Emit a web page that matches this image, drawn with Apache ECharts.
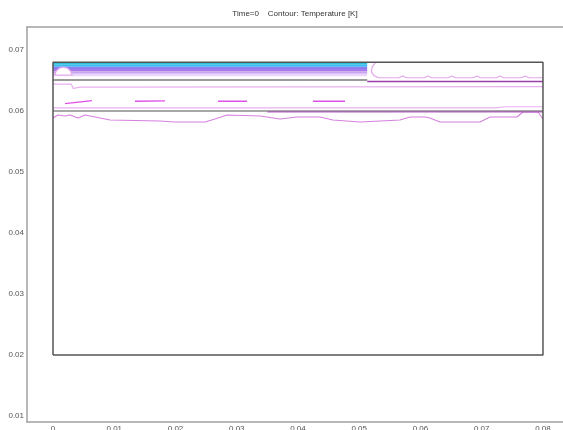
<!DOCTYPE html>
<html>
<head>
<meta charset="utf-8">
<script src="https://cdn.jsdelivr.net/npm/echarts@6/dist/echarts.min.js"></script>
<style>html,body{margin:0;padding:0;background:#fff}#c{width:563px;height:430px}</style>
</head>
<body>
<div id="c"></div>
<script>
// ---- data ----
const titleText = 'Time=0    Contour: Temperature [K]';
const xTicks = [0, 0.01, 0.02, 0.03, 0.04, 0.05, 0.06, 0.07, 0.08];
const yTicks = [0.01, 0.02, 0.03, 0.04, 0.05, 0.06, 0.07];
const domainOutline = [[0, 0.02], [0.08, 0.02], [0.08, 0.068], [0, 0.068], [0, 0.02]];
// heated band (filled temperature levels), x extent and level boundaries
const bandX = [0, 0.0513];
const bandLevels = [0.0680, 0.0676, 0.06725, 0.0669, 0.0665, 0.0661, 0.0657];
const bandColors = ['#2cc0d8', '#3cbcf4', '#8a80ee', '#a67aea', '#c9a4f2', '#ead6fa'];
// semicircular contour at the left end
const arcPts = [[0.0003, 0.0659], [0.0005, 0.0665], [0.0010, 0.0670], [0.0017, 0.0672], [0.0024, 0.0670], [0.0029, 0.0665], [0.0031, 0.0659]];
// contour lines
const grayLineTop = [[0, 0.06510], [0.0513, 0.06510]];
const purpleLineTop = [[0.0513, 0.06482], [0.08, 0.06482]];
const pinkLineTop = [[0, 0.0644], [0.0030, 0.0644], [0.0033, 0.0637], [0.0045, 0.0639], [0.08, 0.0640]];
const endArc = [[0.0527, 0.0680], [0.0521, 0.0672], [0.0520, 0.0664], [0.0524, 0.0658], [0.0532, 0.06545],
  [0.0565, 0.06545], [0.0571, 0.06575], [0.0577, 0.06545], [0.0606, 0.06545], [0.0612, 0.06575], [0.0618, 0.06545],
  [0.0645, 0.06545], [0.0651, 0.06575], [0.0657, 0.06545], [0.0686, 0.06545], [0.0692, 0.06575], [0.0698, 0.06545],
  [0.0724, 0.06545], [0.0730, 0.06575], [0.0736, 0.06545], [0.0765, 0.06545], [0.0771, 0.06575], [0.0777, 0.06545], [0.08, 0.06545]];
const dashes = [
  [[0.00196, 0.0612], [0.00637, 0.0617]],
  [[0.01339, 0.06160], [0.01829, 0.06165]],
  [[0.02694, 0.06160], [0.03167, 0.06160]],
  [[0.04245, 0.06160], [0.04767, 0.06160]]
];
const pinkLineMid = [[0, 0.0605], [0.072, 0.0605], [0.074, 0.0607], [0.08, 0.0607]];
const grayLineMid = [[0, 0.06000], [0.08, 0.06000]];
const purpleLineMid = [[0.035, 0.05985], [0.08, 0.05985]];
const wavyLine = [[0, 0.05885], [0.0008, 0.05934], [0.00196, 0.05918], [0.00278, 0.05934], [0.00408, 0.05885],
  [0.00522, 0.05934], [0.00686, 0.05902], [0.00931, 0.05852], [0.01747, 0.05836], [0.01992, 0.05820],
  [0.02482, 0.05820], [0.02645, 0.05869], [0.02841, 0.05934], [0.0338, 0.05918], [0.03706, 0.05869],
  [0.03984, 0.05902], [0.04359, 0.05902], [0.04571, 0.05852], [0.05012, 0.05820], [0.05339, 0.05836],
  [0.05665, 0.05852], [0.05829, 0.05902], [0.06073, 0.05902], [0.06155, 0.05885], [0.06318, 0.05820],
  [0.06808, 0.05820], [0.06971, 0.05820], [0.07135, 0.05902], [0.07575, 0.05902], [0.07673, 0.05984],
  [0.07918, 0.05984], [0.08, 0.05869]];

// ---- chart ----
const chart = echarts.init(document.getElementById('c'), null, {renderer: 'canvas'});
function line(data, color, width, z) {
  return {type: 'line', data: data, symbol: 'none', silent: true, animation: false, z: z || 3,
    lineStyle: {color: color, width: width}};
}
const bandData = [];
for (let i = 0; i < bandColors.length; i++) bandData.push([bandX[0], bandX[1], bandLevels[i + 1], bandLevels[i], i]);

const series = [
  {
    type: 'custom', silent: true, animation: false, z: 1,
    data: bandData,
    renderItem: function (params, api) {
      const p0 = api.coord([api.value(0), api.value(3)]);
      const p1 = api.coord([api.value(1), api.value(2)]);
      return {type: 'rect', shape: {x: p0[0], y: p0[1], width: p1[0] - p0[0], height: p1[1] - p0[1]},
        style: {fill: bandColors[api.value(4)]}};
    }
  },
  {
    type: 'custom', silent: true, animation: false, z: 2,
    data: [0],
    renderItem: function (params, api) {
      const pts = arcPts.map(p => api.coord(p));
      return {type: 'polygon', shape: {points: pts}, style: {fill: '#ffffff', stroke: '#e6a6ea', lineWidth: 1.2}};
    }
  },
  line(domainOutline, '#555555', 1.5, 6),
  line(grayLineTop, '#9a9a9a', 2, 4),
  line(purpleLineTop, '#9b3fae', 1.5, 4),
  line(pinkLineTop, '#e8b0ee', 1.2, 3),
  line(endArc, '#e3a8ea', 1.2, 3),
  line(pinkLineMid, '#e8b0ee', 1.2, 3),
  line(grayLineMid, '#a8a8a8', 1.8, 4),
  line(purpleLineMid, '#a040b4', 1, 5),
  line(wavyLine, '#d680e0', 1.1, 3)
];
dashes.forEach(d => series.push(line(d, '#e050e8', 1.3, 3)));

const frameLine = {show: true, onZero: false, lineStyle: {color: '#a0a0a0', width: 1.5}};
chart.setOption({
  animation: false,
  title: {text: titleText, left: 290, top: 5, textAlign: 'center',
    textStyle: {fontSize: 8, fontWeight: 'normal', color: '#333', fontFamily: 'Liberation Sans'}},
  grid: {left: 27, top: 27, right: 0, bottom: 8, outerBoundsMode: 'none', containLabel: false},
  xAxis: [{
    type: 'value', position: 'bottom', min: -0.004245, max: 0.08327,
    axisLine: frameLine, axisTick: {show: false}, splitLine: {show: false},
    axisLabel: {customValues: xTicks, color: '#555', fontSize: 8, fontFamily: 'Liberation Sans', margin: 3,
      formatter: v => String(Math.round(v * 100) / 100)}
  }, {
    type: 'value', position: 'top', min: -0.004245, max: 0.08327,
    axisLine: frameLine, axisTick: {show: false}, splitLine: {show: false}, axisLabel: {show: false}
  }],
  yAxis: {
    type: 'value', position: 'left', min: 0.009016, max: 0.07377,
    axisLine: frameLine, axisTick: {show: false}, splitLine: {show: false},
    axisLabel: {customValues: yTicks, color: '#555', fontSize: 8, fontFamily: 'Liberation Sans', margin: 3,
      formatter: v => (Math.round(v * 100) / 100).toFixed(2)}
  },
  series: series
});
</script>
</body>
</html>
